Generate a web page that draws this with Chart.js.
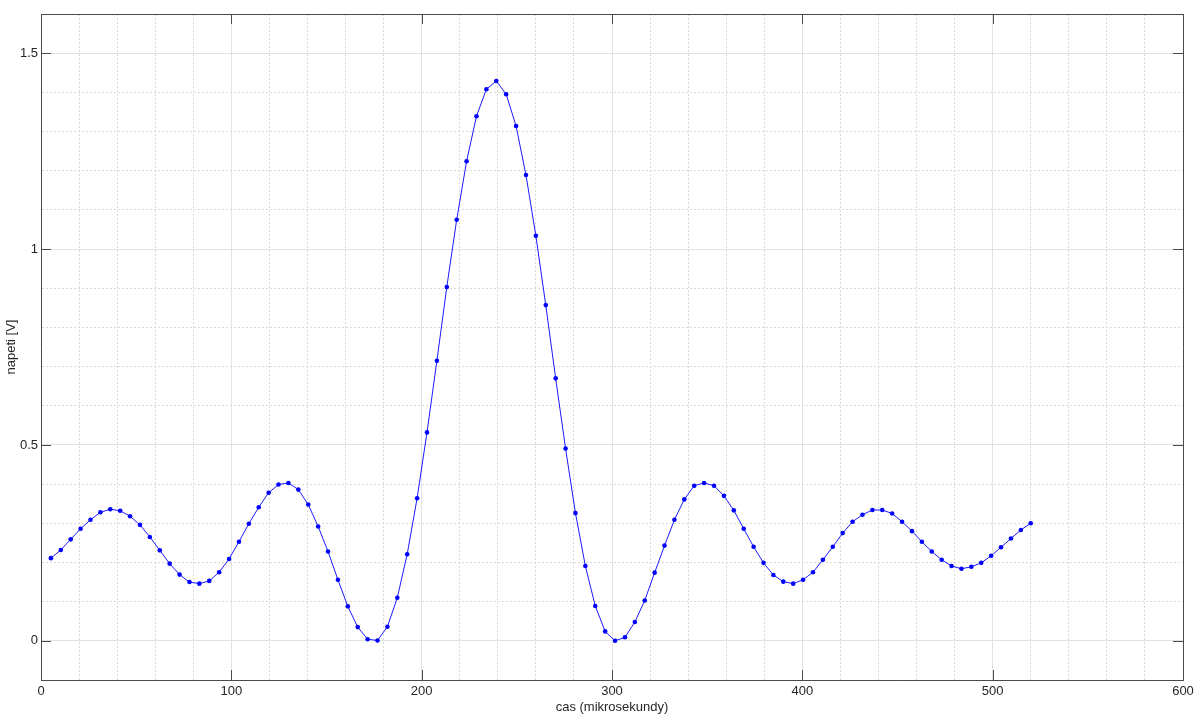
<!DOCTYPE html>
<html lang="cs">
<head>
    <meta charset="UTF-8">
    <title>napeti</title>
    <script src="https://cdn.jsdelivr.net/npm/chart.js"></script>
    <style>
        body { margin: 0; background: #fff; }
    </style>
</head>
<body>
    <canvas id="napetiChart" width="1200" height="718"></canvas>

    <script>
        // cas (mikrosekundy)
        const times = [5.2, 10.4, 15.6, 20.8, 26, 31.2, 36.4, 41.6, 46.8, 52,
            57.2, 62.4, 67.6, 72.8, 78, 83.2, 88.4, 93.6, 98.8, 104,
            109.2, 114.4, 119.6, 124.8, 130, 135.2, 140.4, 145.6, 150.8, 156,
            161.2, 166.4, 171.6, 176.8, 182, 187.2, 192.4, 197.6, 202.8, 208,
            213.2, 218.4, 223.6, 228.8, 234, 239.2, 244.4, 249.6, 254.8, 260,
            265.2, 270.4, 275.6, 280.8, 286, 291.2, 296.4, 301.6, 306.8, 312,
            317.2, 322.4, 327.6, 332.8, 338, 343.2, 348.4, 353.6, 358.8, 364,
            369.2, 374.4, 379.6, 384.8, 390, 395.2, 400.4, 405.6, 410.8, 416,
            421.2, 426.4, 431.6, 436.8, 442, 447.2, 452.4, 457.6, 462.8, 468,
            473.2, 478.4, 483.6, 488.8, 494, 499.2, 504.4, 509.6, 514.8, 520];

        // napeti [V]
        const voltages = [0.211, 0.232, 0.259, 0.286, 0.309, 0.328, 0.336, 0.332, 0.318, 0.296,
            0.265, 0.231, 0.197, 0.169, 0.150, 0.146, 0.153, 0.175, 0.209, 0.253,
            0.299, 0.341, 0.378, 0.399, 0.403, 0.386, 0.348, 0.292, 0.228, 0.156,
            0.088, 0.035, 0.004, 0.001, 0.036, 0.110, 0.221, 0.364, 0.532, 0.715,
            0.903, 1.075, 1.224, 1.339, 1.408, 1.429, 1.395, 1.314, 1.189, 1.034,
            0.857, 0.670, 0.491, 0.326, 0.191, 0.089, 0.024, 0.000, 0.009, 0.048,
            0.103, 0.174, 0.243, 0.309, 0.361, 0.396, 0.403, 0.396, 0.370, 0.333,
            0.286, 0.240, 0.199, 0.168, 0.151, 0.146, 0.156, 0.175, 0.207, 0.240,
            0.275, 0.304, 0.322, 0.334, 0.334, 0.325, 0.304, 0.280, 0.253, 0.228,
            0.207, 0.191, 0.184, 0.189, 0.199, 0.217, 0.239, 0.261, 0.283, 0.300];

        // labelled ticks
        const xMajorTicks = [0, 100, 200, 300, 400, 500, 600];
        const yMajorTicks = [0, 0.5, 1, 1.5];

        const isMajor = (list, v) => list.some(t => Math.abs(t - v) < 1e-6);
        const axisColor = '#4a4a4a';
        const textColor = '#262626';
        const majorGrid = '#e2e2e2';
        const minorGrid = '#dadada';

        // small inward tick marks on all four sides, like octave does
        const innerTicks = {
            id: 'innerTicks',
            afterDraw(chart) {
                const { ctx, chartArea: a, scales } = chart;
                const len = 10;
                ctx.save();
                ctx.strokeStyle = axisColor;
                ctx.lineWidth = 1;
                ctx.beginPath();
                xMajorTicks.forEach(t => {
                    const px = Math.round(scales.x.getPixelForValue(t)) + 0.5;
                    ctx.moveTo(px, a.bottom); ctx.lineTo(px, a.bottom - len);
                    ctx.moveTo(px, a.top); ctx.lineTo(px, a.top + len);
                });
                yMajorTicks.forEach(t => {
                    const py = Math.round(scales.y.getPixelForValue(t)) + 0.5;
                    ctx.moveTo(a.left, py); ctx.lineTo(a.left + len, py);
                    ctx.moveTo(a.right, py); ctx.lineTo(a.right - len, py);
                });
                ctx.stroke();
                ctx.restore();
            }
        };

        Chart.defaults.font.family = '"Liberation Sans", Arial, sans-serif';
        Chart.defaults.font.size = 13;
        Chart.defaults.color = textColor;

        const ctx = document.getElementById('napetiChart').getContext('2d');
        new Chart(ctx, {
            type: 'scatter',
            data: {
                datasets: [{
                    data: times.map((t, i) => ({ x: t, y: voltages[i] })),
                    showLine: true,
                    borderColor: '#1a1aff',
                    borderWidth: 1,
                    backgroundColor: '#0000ff',
                    pointRadius: 2.3,
                    pointBorderWidth: 0,
                    pointStyle: 'circle'
                }]
            },
            options: {
                responsive: false,
                animation: false,
                layout: { padding: 0 },
                plugins: {
                    legend: { display: false },
                    tooltip: { enabled: false }
                },
                scales: {
                    x: {
                        type: 'linear',
                        position: 'bottom',
                        min: 0,
                        max: 600,
                        afterFit: s => { s.height = 38; },
                        ticks: {
                            stepSize: 20,
                            autoSkip: false,
                            maxRotation: 0,
                            padding: 4,
                            // empty string keeps the minor grid line
                            callback: v => isMajor(xMajorTicks, v) ? String(v) : ''
                        },
                        grid: {
                            drawTicks: false,
                            color: c => isMajor(xMajorTicks, c.tick.value) ? majorGrid : minorGrid
                        },
                        border: {
                            color: axisColor,
                            dash: c => (c.tick && !isMajor(xMajorTicks, c.tick.value)) ? [2, 2] : []
                        },
                        title: {
                            display: true,
                            text: 'cas (mikrosekundy)',
                            padding: { top: 2, bottom: 3 }
                        }
                    },
                    y: {
                        type: 'linear',
                        position: 'left',
                        min: -0.1,
                        max: 1.6,
                        afterFit: s => { s.width = 41; },
                        ticks: {
                            stepSize: 0.1,
                            autoSkip: false,
                            padding: 3,
                            callback: v => isMajor(yMajorTicks, v) ? String(Math.round(v * 10) / 10) : ''
                        },
                        grid: {
                            drawTicks: false,
                            color: c => isMajor(yMajorTicks, c.tick.value) ? majorGrid : minorGrid
                        },
                        border: {
                            color: axisColor,
                            dash: c => (c.tick && !isMajor(yMajorTicks, c.tick.value)) ? [2, 2] : []
                        },
                        title: {
                            display: true,
                            text: 'napeti [V]',
                            padding: { top: 4, bottom: 4 }
                        }
                    },
                    xTop: {
                        type: 'linear',
                        axis: 'x',
                        position: 'top',
                        min: 0,
                        max: 600,
                        afterFit: s => { s.height = 14; },
                        ticks: { display: false },
                        grid: { display: false, drawTicks: false },
                        border: { display: true, color: axisColor }
                    },
                    yRight: {
                        type: 'linear',
                        axis: 'y',
                        position: 'right',
                        min: -0.1,
                        max: 1.6,
                        afterFit: s => { s.width = 17; },
                        ticks: { display: false },
                        grid: { display: false, drawTicks: false },
                        border: { display: true, color: axisColor }
                    }
                }
            },
            plugins: [innerTicks]
        });
    </script>
</body>
</html>
